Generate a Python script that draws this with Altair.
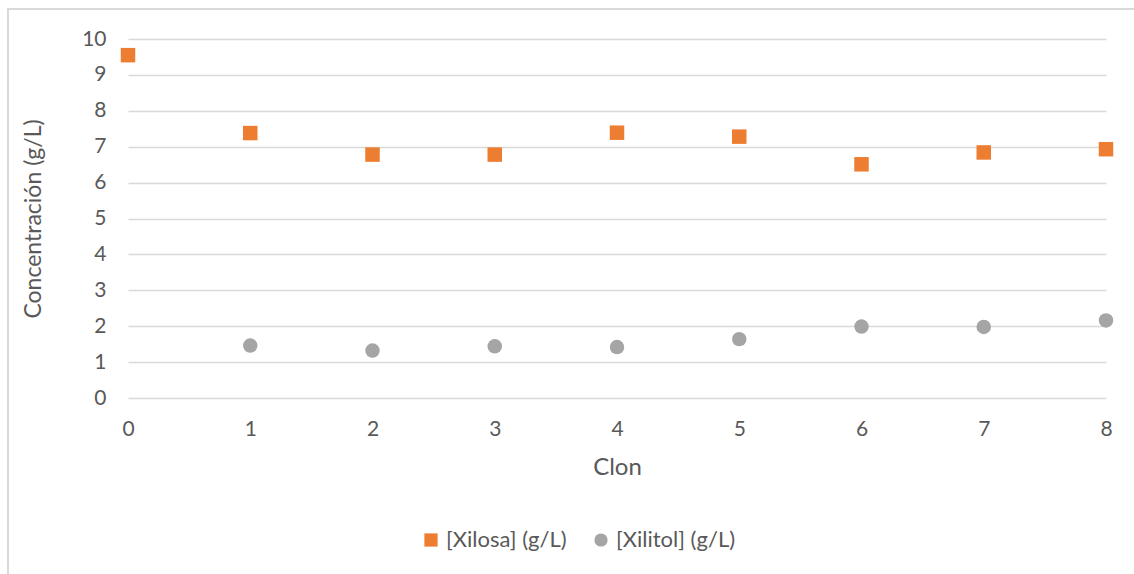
import altair as alt
import pandas as pd

# Clone measurements (g/L)
clon = [0, 1, 2, 3, 4, 5, 6, 7, 8]
xilosa = [9.55, 7.38, 6.78, 6.78, 7.39, 7.28, 6.51, 6.84, 6.93]
xilitol = [None, 1.46, 1.32, 1.44, 1.42, 1.64, 1.99, 1.98, 2.16]

series_names = ["[Xilosa] (g/L)", "[Xilitol] (g/L)"]
series_colors = ["#ED7D31", "#A5A5A5"]
series_shapes = ["square", "circle"]

rows = []
for c, xs, xt in zip(clon, xilosa, xilitol):
    rows.append({"Clon": c, "serie": series_names[0], "valor": xs})
    if xt is not None:
        rows.append({"Clon": c, "serie": series_names[1], "valor": xt})
df = pd.DataFrame(rows)

FONT = "Lato"
TEXT = "#595959"
GRID = "#D9D9D9"

legend_cfg = dict(
    title=None, orient="none", direction="horizontal",
    legendX=292, legendY=490, labelFontSize=22, labelColor=TEXT,
    labelFont=FONT, symbolSize=175, columnPadding=23,
    symbolOpacity=1, labelOffset=4,
)

points = alt.Chart(df).mark_point(filled=True, size=210, opacity=1).encode(
    x=alt.X(
        "Clon:Q",
        scale=alt.Scale(domain=[0, 8], nice=False, zero=False),
        axis=alt.Axis(
            values=clon, format="d", grid=False, domain=False, ticks=False,
            labelFlush=False,
            title="Clon", titleFontSize=24, titleFontWeight="normal",
            titleColor=TEXT, titlePadding=16, labelFontSize=21,
            labelColor=TEXT, labelPadding=20, labelFont=FONT, titleFont=FONT,
        ),
    ),
    y=alt.Y(
        "valor:Q",
        scale=alt.Scale(domain=[0, 10], nice=False),
        axis=alt.Axis(
            values=list(range(0, 11)), grid=True, gridColor=GRID, gridWidth=1.5,
            domain=False, ticks=False, title="Concentración (g/L)",
            titleFontSize=23, titleFontWeight="normal", titleColor=TEXT,
            titlePadding=36, labelFontSize=21, labelColor=TEXT,
            labelPadding=22, labelFont=FONT, titleFont=FONT,
        ),
    ),
    color=alt.Color(
        "serie:N",
        scale=alt.Scale(domain=series_names, range=series_colors),
        legend=alt.Legend(**legend_cfg),
    ),
    shape=alt.Shape(
        "serie:N",
        scale=alt.Scale(domain=series_names, range=series_shapes),
        legend=alt.Legend(**legend_cfg),
    ),
)

# Light frame around the whole figure
frame = alt.Chart(pd.DataFrame({"a": [0]})).mark_rect(
    fill=None, stroke="#D9D9D9", strokeWidth=2
).encode(
    x=alt.value(-120), x2=alt.value(1200),
    y=alt.value(-30), y2=alt.value(700),
)

chart = (
    alt.layer(frame, points)
    .properties(
        width=978, height=359,
        autosize=alt.AutoSizeParams(type="none"),
        padding={"left": 128, "top": 39, "right": 28, "bottom": 176},
        background="white",
    )
    .configure_view(stroke=None)
)

chart.save("out.html", embed_options={"renderer": "svg", "actions": False})
